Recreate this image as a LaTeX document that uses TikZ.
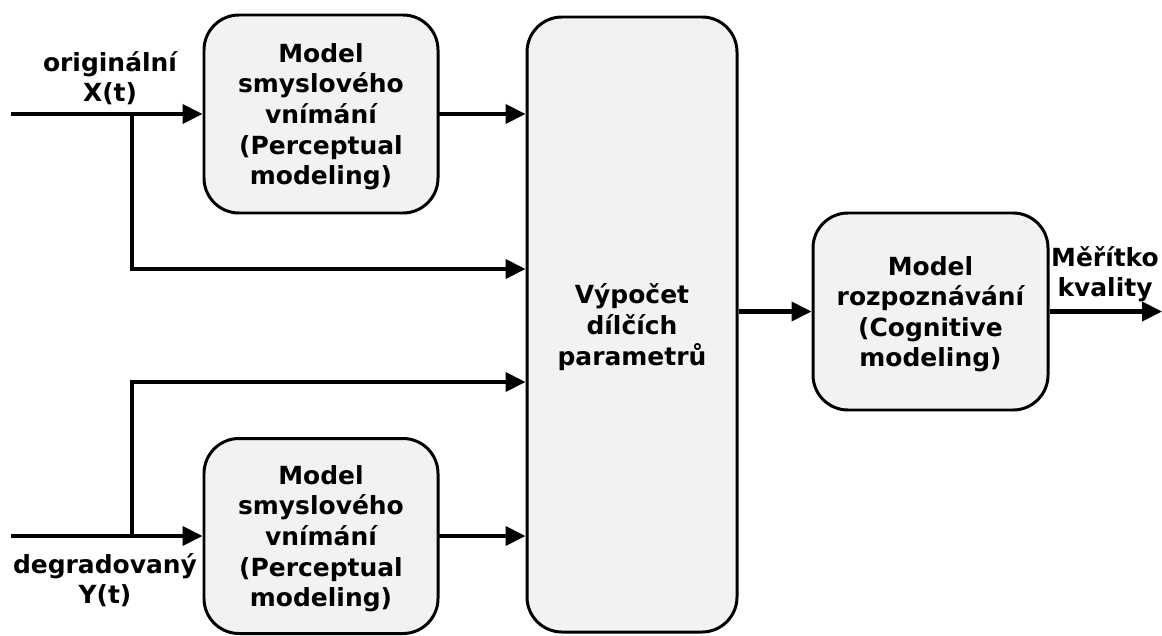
\documentclass[tikz,border=0pt]{standalone}
\usepackage{fontspec}
\setmainfont{DejaVu Sans}
\usetikzlibrary{arrows.meta, positioning, calc}
\definecolor{boxfill}{HTML}{F2F2F2}

\begin{document}
\begin{tikzpicture}[
    font=\bfseries\fontsize{14.2}{17.4}\selectfont,
    >={Triangle[length=0.4cm, width=0.38cm]},
    block/.style={draw, line width=1.7pt, rounded corners=0.7cm, fill=boxfill, align=center, text depth=0pt},
    sig/.style={->, line width=2.3pt},
    lbl/.style={align=center, inner sep=0pt}
]
    \useasboundingbox (0,0) rectangle (23.24,-12.7);

    % Blocks
    \node[block, minimum width=4.68cm, minimum height=3.96cm] (P1) at (6.42,-2.28) {Model\\smyslového\\vnímání\\(Perceptual\\modeling)};
    \node[block, minimum width=4.68cm, minimum height=3.9cm] (P2) at (6.42,-10.72) {Model\\smyslového\\vnímání\\(Perceptual\\modeling)};
    \node[block, minimum width=4.2cm, minimum height=12.3cm] (V) at (12.64,-6.49) {Výpočet\\dílčích\\parametrů};
    \node[block, minimum width=4.7cm, minimum height=3.94cm] (C) at (18.61,-6.23) {Model\\rozpoznávání\\(Cognitive\\modeling)};

    % Signal labels
    \node[lbl] (lX) at (2.2,-1.56) {originální\\X(t)};
    \node[lbl] (lY) at (2.1,-11.6) {degradovaný\\Y(t)};
    \node[lbl] (lQ) at (22.1,-5.48) {Měřítko\\kvality};

    % Inputs
    \coordinate (inX) at (0.22,-2.28);
    \coordinate (inY) at (0.22,-10.72);
    \coordinate (bX) at (2.64,-2.28);
    \coordinate (bY) at (2.64,-10.72);
    \draw[sig] (inX) -- (P1.west);
    \draw[sig] (inY) -- (P2.west);
    \draw[sig] (bX) |- ([yshift=1.11cm]V.west);
    \draw[sig] (bY) |- ([yshift=-1.15cm]V.west);

    % Perceptual outputs
    \draw[sig] (P1.east) -- (P1.east -| V.west);
    \draw[sig] (P2.east) -- (P2.east -| V.west);

    % Cognitive stage
    \coordinate (out) at (23.24,-6.23);
    \draw[sig] (V.east |- C.west) -- (C.west);
    \draw[sig] (C.east) -- (out);
\end{tikzpicture}
\end{document}
